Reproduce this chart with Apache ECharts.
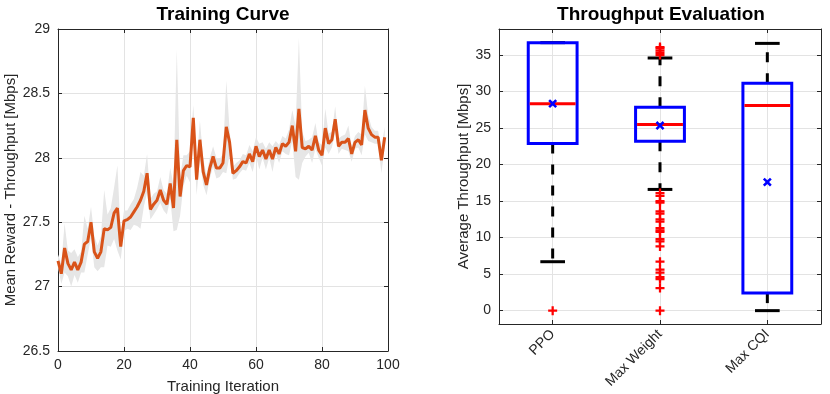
<!DOCTYPE html>
<html>
<head>
<meta charset="utf-8">
<script src="https://cdn.jsdelivr.net/npm/echarts@6/dist/echarts.min.js"></script>
<style>
  html, body { margin: 0; padding: 0; background: #fff; }
  #chart { width: 830px; height: 394px; }
</style>
</head>
<body>
<div id="chart"></div>
<script>
// training curve: mean reward per iteration and the half width of the grey band
var meanReward = [
  27.20, 27.10, 27.30, 27.18, 27.13, 27.19, 27.13, 27.19, 27.33, 27.35,
  27.50, 27.27, 27.22, 27.27, 27.45, 27.44, 27.46, 27.57, 27.61, 27.31,
  27.51, 27.52, 27.54, 27.58, 27.62, 27.67, 27.74, 27.88, 27.60, 27.64,
  27.67, 27.75, 27.67, 27.64, 27.80, 27.61, 28.14, 27.70, 27.90, 27.94,
  27.93, 28.31, 27.83, 28.14, 27.89, 27.79, 27.92, 28.01, 27.92, 27.92,
  27.96, 28.24, 28.12, 27.88, 27.90, 27.93, 27.97, 27.96, 28.03, 27.97,
  28.09, 28.01, 28.06, 27.99, 28.06, 27.99, 28.08, 28.03, 28.11, 28.09,
  28.12, 28.25, 28.05, 28.38, 28.08, 28.07, 28.09, 28.06, 28.17, 28.06,
  28.02, 28.23, 28.11, 28.14, 28.30, 28.09, 28.12, 28.12, 28.15, 28.03,
  28.12, 28.14, 28.10, 28.37, 28.23, 28.18, 28.16, 28.16, 27.98, 28.16
];
var rewardSpread = [
  0.05, 0.08, 0.19, 0.10, 0.13, 0.10, 0.10, 0.08, 0.22, 0.10,
  0.12, 0.12, 0.10, 0.12, 0.30, 0.12, 0.15, 0.20, 0.33, 0.10,
  0.08, 0.07, 0.10, 0.10, 0.15, 0.22, 0.12, 0.15, 0.08, 0.08,
  0.07, 0.10, 0.08, 0.08, 0.12, 0.18, 0.70, 0.15, 0.12, 0.08,
  0.12, 0.10, 0.12, 0.15, 0.10, 0.08, 0.08, 0.08, 0.08, 0.07,
  0.07, 0.36, 0.10, 0.05, 0.06, 0.05, 0.06, 0.06, 0.07, 0.08,
  0.07, 0.10, 0.06, 0.08, 0.06, 0.10, 0.05, 0.07, 0.06, 0.06,
  0.10, 0.12, 0.20, 0.55, 0.12, 0.06, 0.05, 0.10, 0.10, 0.06,
  0.08, 0.15, 0.08, 0.06, 0.10, 0.06, 0.05, 0.06, 0.10, 0.06,
  0.05, 0.06, 0.08, 0.19, 0.10, 0.06, 0.05, 0.05, 0.10, 0.08
];

// throughput evaluation boxes
var schemes = ['PPO', 'Max Weight', 'Max CQI'];
var whiskerLow = [6.7, 16.6, 0];
var quartile1 = [22.9, 23.2, 2.4];
var medians = [28.35, 25.5, 28.1];
var quartile3 = [36.7, 27.85, 31.15];
var whiskerHigh = [36.7, 34.6, 36.6];
var means = [28.35, 25.35, 17.6];
var outliers = [
  [0],
  [36.1, 35.9, 35.6, 35.3, 35.0, 16.1, 15.7, 15.0, 14.8, 13.6, 13.3, 12.5, 12.2,
   11.3, 11.0, 10.8, 9.8, 9.5, 8.8, 6.7, 5.6, 5.2, 4.6, 4.3, 3.1, 0],
  []
];

var ink = '#262626';
var gridGray = '#e3e3e3';
var font = 'Liberation Sans';

var lineData = meanReward.map(function (v, i) { return [i, v]; });
var bandData = meanReward.map(function (v, i) { return [i, v - rewardSpread[i], v + rewardSpread[i]]; });

// boxes sit at x = 1, 2, 3 on a value axis so the grid lines pass through their centres
var boxData = schemes.map(function (s, i) {
  return [i + 1, whiskerLow[i], quartile1[i], medians[i], quartile3[i], whiskerHigh[i]];
});
var meanData = means.map(function (v, i) { return [i + 1, v]; });
var outlierData = [];
outliers.forEach(function (list, i) {
  list.forEach(function (v) { outlierData.push([i + 1, v]); });
});

var plusPath = 'path://M3,0H5V3H8V5H5V8H3V5H0V3H3Z';

function renderBand(params, api) {
  if (params.dataIndex !== 0) return null;
  var pts = [];
  bandData.forEach(function (d) { pts.push(api.coord([d[0], d[2]])); });
  for (var i = bandData.length - 1; i >= 0; i--) {
    pts.push(api.coord([bandData[i][0], bandData[i][1]]));
  }
  return {
    type: 'polygon',
    shape: { points: pts },
    style: { fill: '#e6e6e6', stroke: null }
  };
}

function renderBox(params, api) {
  var c = api.value(0);
  var lo = api.coord([c, api.value(1)]);
  var q1 = api.coord([c, api.value(2)]);
  var md = api.coord([c, api.value(3)]);
  var q3 = api.coord([c, api.value(4)]);
  var hi = api.coord([c, api.value(5)]);
  var band = api.size([1, 0])[0];
  var bw = band * 0.455;
  var cw = band * 0.23;
  var x = md[0];
  var dash = { stroke: '#000', lineWidth: 3, lineDash: [10, 11], fill: null };
  var solid = { stroke: '#000', lineWidth: 3, fill: null };
  var kids = [];
  if (lo[1] - q1[1] > 1) {
    kids.push({ type: 'line', shape: { x1: x, y1: q1[1], x2: x, y2: lo[1] }, style: dash });
  }
  if (q3[1] - hi[1] > 1) {
    kids.push({ type: 'line', shape: { x1: x, y1: q3[1], x2: x, y2: hi[1] }, style: dash });
  }
  kids.push({ type: 'line', shape: { x1: x - cw / 2, y1: lo[1], x2: x + cw / 2, y2: lo[1] }, style: solid });
  kids.push({ type: 'line', shape: { x1: x - cw / 2, y1: hi[1], x2: x + cw / 2, y2: hi[1] }, style: solid });
  kids.push({
    type: 'rect',
    shape: { x: x - bw / 2, y: q3[1], width: bw, height: q1[1] - q3[1] },
    style: { stroke: '#0000ff', lineWidth: 3, fill: null }
  });
  kids.push({
    type: 'line',
    shape: { x1: x - bw / 2 + 1.5, y1: md[1], x2: x + bw / 2 - 1.5, y2: md[1] },
    style: { stroke: '#ff0000', lineWidth: 3 }
  });
  return { type: 'group', children: kids };
}

function frameAxis(extra) {
  var a = {
    axisLine: { show: true, onZero: false, lineStyle: { color: ink, width: 1 } },
    axisTick: { show: true, inside: true, length: 4, lineStyle: { color: ink } },
    axisLabel: { show: false },
    splitLine: { show: false }
  };
  for (var k in extra) a[k] = extra[k];
  return a;
}

var chart = echarts.init(document.getElementById('chart'));
var option = {
  animation: false,
  textStyle: { fontFamily: font },
  graphic: [
    { type: 'text', x: 223, y: 15, style: { text: 'Training Curve', font: 'bold 19px "Liberation Sans"', fill: '#000', textAlign: 'center', textVerticalAlign: 'middle' } },
    { type: 'text', x: 661, y: 15, style: { text: 'Throughput Evaluation', font: 'bold 19px "Liberation Sans"', fill: '#000', textAlign: 'center', textVerticalAlign: 'middle' } }
  ],
  grid: [
    { left: 58, right: 442, top: 29, bottom: 43, outerBoundsMode: 'none', containLabel: false },
    { left: 499, right: 9, top: 29, bottom: 70, outerBoundsMode: 'none', containLabel: false }
  ],
  xAxis: [
    {
      type: 'value', gridIndex: 0, min: 0, max: 100, interval: 20,
      name: 'Training Iteration', nameLocation: 'middle', nameGap: 28,
      nameTextStyle: { fontSize: 15, color: ink },
      axisLine: { show: true, onZero: false, lineStyle: { color: ink } },
      axisTick: { show: true, inside: true, length: 4, lineStyle: { color: ink } },
      axisLabel: { fontSize: 14, color: ink, margin: 7 },
      splitLine: { show: true, lineStyle: { color: gridGray } }
    },
    frameAxis({ type: 'value', gridIndex: 0, position: 'top', min: 0, max: 100, interval: 20 }),
    {
      type: 'value', gridIndex: 1, min: 0.5, max: 3.5, splitNumber: 3,
      axisLine: { show: true, onZero: false, lineStyle: { color: ink } },
      axisTick: { show: true, inside: true, length: 4, lineStyle: { color: ink } },
      axisLabel: {
        fontSize: 14, color: ink, rotate: 45, margin: 8,
        showMinLabel: false, showMaxLabel: false,
        formatter: function (v) { return schemes[Math.round(v) - 1] || ''; }
      },
      splitLine: { show: true, lineStyle: { color: gridGray } }
    },
    frameAxis({ type: 'value', gridIndex: 1, position: 'top', min: 0.5, max: 3.5, splitNumber: 3 })
  ],
  yAxis: [
    {
      type: 'value', gridIndex: 0, min: 26.5, max: 29, interval: 0.5,
      name: 'Mean Reward - Throughput [Mbps]', nameLocation: 'middle', nameGap: 32,
      nameTextStyle: { fontSize: 15, color: ink },
      axisLine: { show: true, onZero: false, lineStyle: { color: ink } },
      axisTick: { show: true, inside: true, length: 4, lineStyle: { color: ink } },
      axisLabel: { fontSize: 14, color: ink, margin: 8 },
      splitLine: { show: true, lineStyle: { color: gridGray } }
    },
    frameAxis({ type: 'value', gridIndex: 0, position: 'right', min: 26.5, max: 29, interval: 0.5 }),
    {
      type: 'value', gridIndex: 1, min: -1.83, max: 38.57, splitNumber: 8,
      name: 'Average Throughput [Mbps]', nameLocation: 'middle', nameGap: 23,
      nameTextStyle: { fontSize: 15, color: ink },
      axisLine: { show: true, onZero: false, lineStyle: { color: ink } },
      axisTick: { show: true, inside: true, length: 4, lineStyle: { color: ink } },
      axisLabel: { fontSize: 14, color: ink, margin: 8, showMinLabel: false, showMaxLabel: false },
      splitLine: { show: true, lineStyle: { color: gridGray } }
    },
    frameAxis({ type: 'value', gridIndex: 1, position: 'right', min: -1.83, max: 38.57, splitNumber: 8 })
  ],
  series: [
    {
      type: 'custom', xAxisIndex: 0, yAxisIndex: 0, data: bandData,
      renderItem: renderBand, encode: { x: 0, y: [1, 2] }, silent: true
    },
    {
      type: 'line', xAxisIndex: 0, yAxisIndex: 0, data: lineData,
      symbol: 'none', lineStyle: { color: '#d95319', width: 3 }
    },
    {
      type: 'custom', xAxisIndex: 2, yAxisIndex: 2, data: boxData,
      renderItem: renderBox, encode: { x: 0, y: [1, 2, 3, 4, 5] }
    },
    {
      type: 'scatter', xAxisIndex: 2, yAxisIndex: 2, data: outlierData,
      symbol: plusPath, symbolSize: 9, itemStyle: { color: '#ff0000', opacity: 1 }
    },
    {
      type: 'scatter', xAxisIndex: 2, yAxisIndex: 2, data: meanData,
      symbol: plusPath, symbolSize: 10, symbolRotate: 45, itemStyle: { color: '#0000ff', opacity: 1 }
    }
  ]
};
chart.setOption(option);
</script>
</body>
</html>
